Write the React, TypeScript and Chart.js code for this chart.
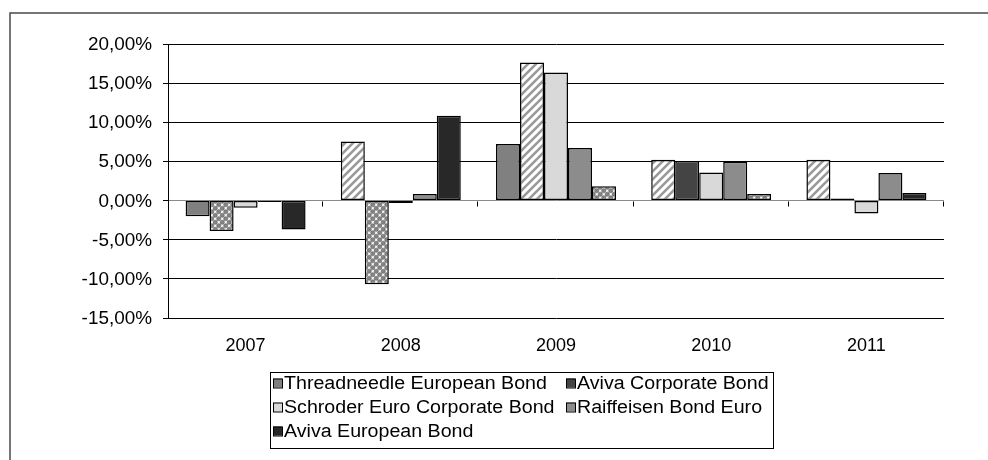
import React, { useEffect, useRef } from 'react';
import { Chart, registerables } from 'chart.js';

Chart.register(...registerables);

// ---- data ----
const categories = ['2007', '2008', '2009', '2010', '2011'];
const seriesNames = [
  'Threadneedle European Bond',
  'Aviva Corporate Bond',
  'Schroder Euro Corporate Bond',
  'Raiffeisen Bond Euro',
  'Aviva European Bond',
];
const threadneedle = [-2.0, 7.56, 7.23, 5.2, 5.2];
const avivaCorporate = [-3.9, -10.7, 17.64, 5.05, 0.25];
const schroder = [-0.93, -0.3, 16.37, 3.57, -1.66];
const raiffeisen = [-0.17, 0.85, 6.72, 4.97, 3.53];
const avivaEuropean = [-3.7, 10.84, 1.83, 0.85, 0.98];

// per-bar fill style as seen in the picture
const threadneedleStyle = ['solid', 'hatch', 'solid', 'hatch', 'hatch'];
const avivaCorporateStyle = ['dots', 'dots', 'hatch', 'solid', 'solid'];
const schroderStyle = ['solid', 'solid', 'solid', 'solid', 'solid'];
const raiffeisenStyle = ['solid', 'solid', 'solid', 'solid', 'solid'];
const avivaEuropeanStyle = ['solid', 'solid', 'dots', 'dots', 'solid'];

const seriesColors = ['#808080', '#444444', '#d9d9d9', '#8c8c8c', '#282828'];

const yMin = -15;
const yMax = 20;
const yStep = 5;

const FONT = '"Liberation Sans", Arial, sans-serif';

function makeHatch(): CanvasPattern | string {
  const c = document.createElement('canvas');
  c.width = 8;
  c.height = 8;
  const g = c.getContext('2d');
  if (!g) return '#bbbbbb';
  g.fillStyle = '#ffffff';
  g.fillRect(0, 0, 8, 8);
  g.strokeStyle = '#9a9a9a';
  g.lineWidth = 2.6;
  g.beginPath();
  g.moveTo(-2, 10); g.lineTo(10, -2);
  g.moveTo(-6, 6); g.lineTo(6, -6);
  g.moveTo(2, 14); g.lineTo(14, 2);
  g.stroke();
  return g.createPattern(c, 'repeat') || '#bbbbbb';
}

function makeDots(): CanvasPattern | string {
  const c = document.createElement('canvas');
  c.width = 7;
  c.height = 7;
  const g = c.getContext('2d');
  if (!g) return '#aaaaaa';
  g.fillStyle = '#ffffff';
  g.fillRect(0, 0, 7, 7);
  const pts = [[1.75, 1.75], [5.25, 5.25], [-1.75, 5.25], [5.25, -1.75], [8.75, 1.75], [1.75, 8.75]];
  for (const [x, y] of pts) {
    g.beginPath();
    g.arc(x, y, 2.1, 0, Math.PI * 2);
    g.fillStyle = '#858585';
    g.fill();
    g.lineWidth = 0.6;
    g.strokeStyle = '#5e5e5e';
    g.stroke();
  }
  return g.createPattern(c, 'repeat') || '#aaaaaa';
}

const fmt = (v: number) => v.toFixed(2).replace('.', ',') + '%';

export default function App() {
  const ref = useRef<HTMLCanvasElement | null>(null);

  useEffect(() => {
    const canvas = ref.current;
    if (!canvas) return;
    const hatch = makeHatch();
    const dots = makeDots();
    const fillFor = (styles: string[], color: string) =>
      styles.map((s) => (s === 'hatch' ? hatch : s === 'dots' ? dots : color));

    const allValues = [threadneedle, avivaCorporate, schroder, raiffeisen, avivaEuropean];
    const allStyles = [threadneedleStyle, avivaCorporateStyle, schroderStyle, raiffeisenStyle, avivaEuropeanStyle];

    const datasets = allValues.map((vals, i) => ({
      label: seriesNames[i],
      data: vals,
      backgroundColor: fillFor(allStyles[i], seriesColors[i]) as any,
      borderColor: '#000000',
      borderWidth: 1.5,
      borderSkipped: false as any,
      categoryPercentage: 0.773,
      barPercentage: 1.0,
    }));

    const framePlugin = {
      id: 'frameAndLegend',
      beforeDraw(chart: any) {
        const ctx = chart.ctx as CanvasRenderingContext2D;
        ctx.save();
        ctx.fillStyle = '#ffffff';
        ctx.fillRect(0, 0, chart.width, chart.height);
        ctx.strokeStyle = '#4a4a4a';
        ctx.lineWidth = 1.5;
        ctx.beginPath();
        ctx.moveTo(10, chart.height);
        ctx.lineTo(10, 13);
        ctx.lineTo(chart.width, 13);
        ctx.stroke();
        ctx.restore();
      },
      afterDatasetsDraw(chart: any) {
        const ctx = chart.ctx as CanvasRenderingContext2D;
        const x = chart.scales.x;
        const y = chart.scales.y;
        const y0 = Math.round(y.getPixelForValue(0)) + 0.5;
        const n = categories.length;
        const cw = (x.right - x.left) / n;
        ctx.save();
        ctx.strokeStyle = '#000000';
        ctx.lineWidth = 1;
        ctx.beginPath();
        for (let i = 1; i <= n; i++) {
          const px = Math.round(x.left + cw * i) - 0.5;
          ctx.moveTo(px, y0);
          ctx.lineTo(px, y0 + 5);
        }
        ctx.stroke();
        ctx.restore();
      },
      afterDraw(chart: any) {
        const ctx = chart.ctx as CanvasRenderingContext2D;
        const xs = chart.scales.x;
        const ys = chart.scales.y;
        ctx.save();
        ctx.fillStyle = '#000000';
        ctx.font = `18px ${FONT}`;
        // y tick labels
        ctx.textAlign = 'right';
        ctx.textBaseline = 'middle';
        for (const t of ys.ticks) {
          const py = ys.getPixelForValue(t.value);
          ctx.save();
          ctx.translate(152, py + 1);
          ctx.scale(1.05, 1);
          ctx.fillText(fmt(t.value), 0, 0);
          ctx.restore();
        }
        // x category labels
        ctx.textAlign = 'center';
        ctx.textBaseline = 'alphabetic';
        categories.forEach((c, i) => {
          ctx.fillText(c, xs.getPixelForValue(i), 351);
        });

        // legend box
        ctx.textAlign = 'left';
        ctx.strokeStyle = '#000000';
        ctx.lineWidth = 1;
        ctx.strokeRect(270.5, 372.5, 503, 76);
        ctx.textBaseline = 'middle';
        const cols = [273, 566];
        const rows = [383, 407, 431];
        seriesNames.forEach((name, i) => {
          const cx = cols[i % 2];
          const cy = rows[Math.floor(i / 2)];
          ctx.fillStyle = seriesColors[i];
          ctx.fillRect(cx, cy - 4.5, 9, 9);
          ctx.strokeStyle = '#000000';
          ctx.strokeRect(cx + 0.5, cy - 4.5 + 0.5, 9, 9);
          ctx.fillStyle = '#000000';
          ctx.save();
          ctx.translate(cx + 11, cy + 1);
          ctx.scale(1.09, 1);
          ctx.fillText(name, 0, 0);
          ctx.restore();
        });
        ctx.restore();
      },
    };

    const chart = new Chart(canvas, {
      type: 'bar',
      data: { labels: categories, datasets },
      options: {
        animation: false,
        responsive: false,
        maintainAspectRatio: false,
        layout: { padding: { left: 158, top: 44, right: 44, bottom: 132 } },
        plugins: {
          legend: { display: false },
          tooltip: { enabled: false },
          title: { display: false },
        },
        scales: {
          x: {
            afterFit: (s: any) => { s.height = 10; },
            grid: { display: false, drawTicks: false, tickLength: 0 },
            border: { display: false },
            ticks: { display: false },
          },
          y: {
            min: yMin,
            max: yMax,
            afterFit: (s: any) => { s.width = 10; },
            grid: {
              color: (c: any) => (c.tick && c.tick.value === 0 ? '#8a8a8a' : '#000000'),
              tickColor: '#000000',
              lineWidth: 1,
              drawTicks: true,
              tickLength: 5,
            },
            border: { display: true, color: '#000000', width: 1 },
            ticks: {
              display: false,
              stepSize: yStep,
            },
          },
        },
      },
      plugins: [framePlugin],
    });
    return () => chart.destroy();
  }, []);

  return (
    <canvas
      ref={ref}
      width={988}
      height={460}
      style={{ position: 'fixed', left: 0, top: 0, width: 988, height: 460, display: 'block' }}
    />
  );
}
